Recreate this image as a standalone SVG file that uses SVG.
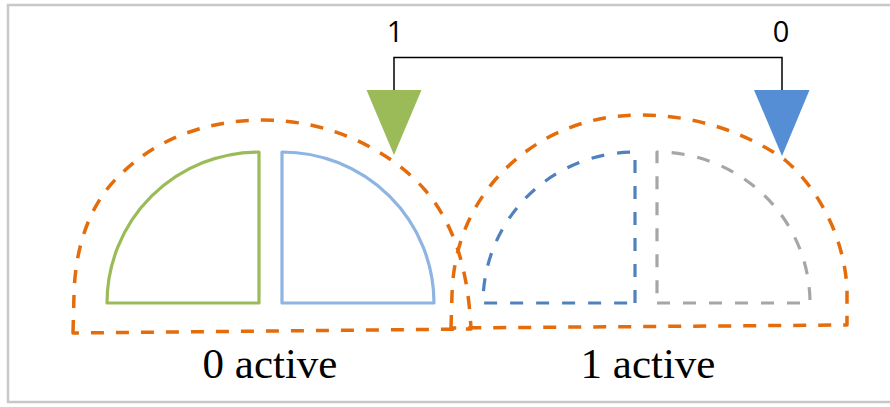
<svg xmlns="http://www.w3.org/2000/svg" width="890" height="407" viewBox="0 0 890 407">
  <style>
    .zone { fill: none; stroke: #E46C0A; stroke-width: 3.5; stroke-dasharray: 13 12; stroke-linejoin: round; }
    .solid { fill: none; stroke-width: 3.2; stroke-linejoin: round; }
    .dashed { fill: none; stroke-width: 3.2; stroke-dasharray: 13 13; stroke-linejoin: round; }
    .lbl { font-family: "Liberation Serif", "Times New Roman", serif; font-size: 43px; fill: #000; text-anchor: middle; }
    .num { font-family: "Open Sans", "Liberation Sans", Arial, sans-serif; font-size: 29px; fill: #000; text-anchor: middle; }
  </style>
  <rect x="0" y="0" width="890" height="407" fill="#ffffff"/>
  <rect id="frame" x="8" y="5" width="900" height="397" fill="#ffffff" stroke="#C8C8C8" stroke-width="2.5"/>

  <g id="zone0">
    <path class="zone" d="M 73,333 L 74,295 C 75,250 88,205 120,175 C 155,140 205,120 263,120 C 330,120 390,150 425,190 C 455,225 468,270 471,329 Z"/>
    <text class="lbl" x="270" y="378">0 active</text>
  </g>
  <g id="zone1">
    <path class="zone" d="M 451,328 L 452,295 C 453,255 465,215 495,180 C 530,140 580,115 640,115 C 700,115 750,135 785,160 C 820,190 845,240 847,290 L 847,325 Z"/>
    <text class="lbl" x="648" y="378">1 active</text>
  </g>

  <g id="green-quadrant">
    <path class="solid" stroke="#9BBB59" d="M 107,303 L 259,303 L 259,152 A 152 151 0 0 0 107,303 Z"/>
  </g>
  <g id="lightblue-quadrant">
    <path class="solid" stroke="#8EB4E3" d="M 282,152 L 282,303 L 434,303 A 152 151 0 0 0 282,152 Z"/>
  </g>
  <g id="blue-dashed-quadrant">
    <path class="dashed" stroke="#4F81BD" d="M 635,303 L 635,152 A 152 151 0 0 0 483,303 Z"/>
  </g>
  <g id="gray-dashed-quadrant">
    <path class="dashed" stroke="#A6A6A6" d="M 657,303 L 810,303 A 153 151 0 0 0 657,152 Z"/>
  </g>

  <g id="connectors">
    <path d="M 394,90 V 57.5 H 782 V 90" fill="none" stroke="#000" stroke-width="1.5"/>
    <polygon points="366.5,90 421.5,90 394,155" fill="#9BBB59"/>
    <polygon points="754,90 809.5,90 782,156" fill="#558ED5"/>
    <text class="num" x="395" y="42">1</text>
    <text class="num" x="781" y="42">0</text>
  </g>
</svg>
